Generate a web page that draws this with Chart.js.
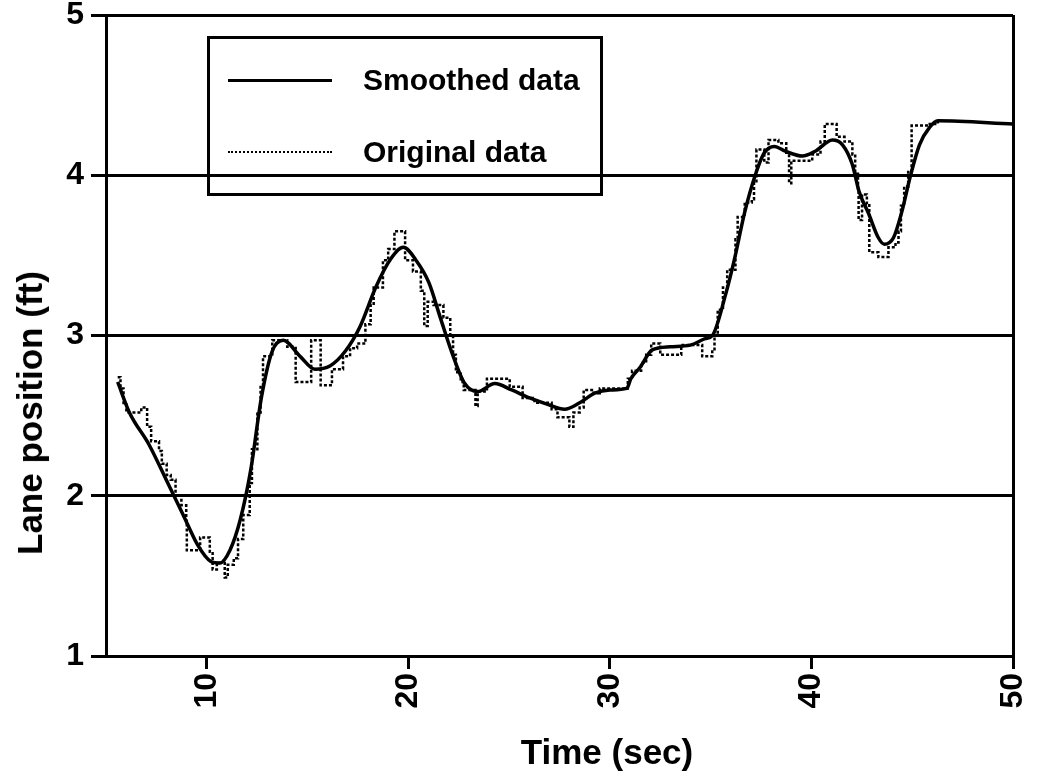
<!DOCTYPE html>
<html>
<head>
<meta charset="utf-8">
<script src="https://cdn.jsdelivr.net/npm/chart.js@4.4.1/dist/chart.umd.min.js"></script>
<style>
  html, body { margin: 0; padding: 0; background: #fff; }
  #wrap { position: relative; width: 1042px; height: 778px; font-family: 'Liberation Sans', Arial, sans-serif; color: #000; }
  #wrap canvas { position: absolute; left: 0; top: 0; }
  .legend { position: absolute; left: 207px; top: 36px; width: 390px; height: 154px; border: 3px solid #000; }
  .legend .row { position: absolute; left: 0; height: 40px; width: 100%; }
  .legend .sample { position: absolute; left: 18px; width: 104px; top: 19px; }
  .legend .solid { border-top: 3px solid #000; }
  .legend .dotted { border-top: 2px dotted #000; }
  .legend .label { position: absolute; left: 153px; top: 0; font-size: 30px; font-weight: bold; line-height: 40px; white-space: nowrap; }
  .xtitle { position: absolute; left: 607px; top: 752px; transform: translate(-50%, -50%); font-size: 35px; font-weight: bold; white-space: nowrap; }
  .ytitle { position: absolute; left: 30px; top: 413px; transform: translate(-50%, -50%) rotate(-90deg); font-size: 35px; font-weight: bold; white-space: nowrap; }
</style>
</head>
<body>
<div id="wrap">
  <canvas id="c" width="1042" height="778"></canvas>
  <div class="legend">
    <div class="row" style="top:21px"><div class="sample solid"></div><div class="label">Smoothed data</div></div>
    <div class="row" style="top:93px"><div class="sample dotted"></div><div class="label">Original data</div></div>
  </div>
  <div class="xtitle">Time (sec)</div>
  <div class="ytitle">Lane position (ft)</div>
</div>
<script>
// ---- axis setup ----
const xMin = 5, xMax = 50;
const yMin = 1, yMax = 5;
const xTicks = [10, 20, 30, 40, 50];

// ---- smoothed curve (time in sec, lane position in ft) ----
const smoothT = [5.58, 6.16, 7.13, 8.10, 8.83, 9.56, 10.20, 10.65, 11.15, 11.66,
  12.18, 12.72, 13.24, 13.79, 14.63, 15.36, 16.11, 16.86, 17.62, 18.38,
  19.14, 19.75, 20.38, 21.02, 21.59, 22.17, 22.80, 23.44, 24.29, 25.13,
  26.02, 26.91, 27.75, 28.50, 29.25, 30.00, 30.84, 31.04, 31.49, 32.10,
  33.00, 33.99, 34.73, 35.09, 35.75, 36.17, 36.69, 37.21, 37.66, 38.16,
  38.70, 39.55, 40.19, 41.04, 41.54, 42.02, 42.36, 42.84, 43.32, 43.62,
  44.07, 44.48, 44.90, 45.36, 45.87, 46.27, 50.00];
const smoothV = [2.71, 2.52, 2.32, 2.07, 1.88, 1.69, 1.59, 1.58, 1.66, 1.85,
  2.16, 2.62, 2.90, 2.97, 2.87, 2.79, 2.81, 2.90, 3.06, 3.30,
  3.48, 3.55, 3.47, 3.33, 3.11, 2.89, 2.70, 2.65, 2.70, 2.66,
  2.61, 2.57, 2.54, 2.58, 2.64, 2.66, 2.67, 2.73, 2.80, 2.91,
  2.93, 2.94, 2.98, 3.00, 3.26, 3.47, 3.77, 4.00, 4.14, 4.18,
  4.15, 4.12, 4.15, 4.22, 4.19, 4.07, 3.90, 3.76, 3.61, 3.57,
  3.61, 3.77, 3.99, 4.19, 4.30, 4.34, 4.32];

// ---- original (sampled, step) data ----
const origT = [5.58, 5.72, 5.87, 6.01, 6.75, 7.04, 7.24, 7.63, 7.77, 8.01,
  8.21, 8.45, 8.74, 8.98, 9.01, 9.67, 10.15, 10.29, 10.50, 10.89,
  11.04, 11.34, 11.55, 11.81, 12.13, 12.24, 12.51, 12.67, 12.79, 13.25,
  13.99, 14.41, 15.18, 15.65, 16.21, 16.76, 17.11, 17.46, 17.87, 18.13,
  18.28, 18.74, 19.00, 19.31, 19.84, 20.23, 20.62, 20.79, 20.96, 21.25,
  21.74, 22.08, 22.22, 22.36, 22.60, 22.75, 23.33, 23.44, 23.90, 25.03,
  25.67, 26.26, 27.11, 27.40, 27.99, 28.19, 28.50, 28.70, 29.20, 29.50,
  30.89, 31.10, 31.55, 31.80, 32.05, 32.50, 33.54, 34.58, 35.08, 35.19,
  35.35, 35.61, 35.82, 36.23, 36.34, 36.69, 37.04, 37.15, 37.27, 37.66,
  37.87, 38.36, 38.75, 38.89, 39.00, 40.04, 40.45, 40.66, 41.25, 41.64,
  42.03, 42.17, 42.31, 42.34, 42.51, 42.75, 42.87, 43.32, 43.82, 44.17,
  44.32, 44.44, 44.60, 44.80, 44.97, 45.87, 46.27];
const origV = [2.74, 2.67, 2.57, 2.52, 2.55, 2.43, 2.34, 2.28, 2.20, 2.13,
  2.10, 2.00, 1.94, 1.84, 1.66, 1.74, 1.65, 1.54, 1.58, 1.49,
  1.57, 1.61, 1.73, 1.88, 2.08, 2.29, 2.52, 2.69, 2.87, 2.97,
  2.93, 2.71, 2.97, 2.69, 2.79, 2.87, 2.92, 2.95, 3.07, 3.19,
  3.30, 3.47, 3.54, 3.65, 3.47, 3.40, 3.28, 3.06, 3.21, 3.19,
  3.11, 3.00, 2.88, 2.77, 2.71, 2.66, 2.56, 2.65, 2.73, 2.68,
  2.61, 2.58, 2.54, 2.49, 2.43, 2.52, 2.55, 2.66, 2.64, 2.67,
  2.73, 2.78, 2.83, 2.88, 2.95, 2.88, 2.94, 2.87, 2.90, 3.00,
  3.16, 3.30, 3.41, 3.60, 3.74, 3.83, 3.85, 3.95, 4.16, 4.08,
  4.22, 4.20, 4.14, 3.95, 4.09, 4.13, 4.21, 4.32, 4.24, 4.21,
  4.13, 4.01, 3.90, 3.72, 3.88, 3.82, 3.52, 3.49, 3.55, 3.58,
  3.65, 3.81, 3.93, 4.02, 4.31, 4.32, 4.34];

const pts = (ts, vs) => ts.map((t, i) => ({ x: t, y: vs[i] }));
const tickFont = { family: "'Liberation Sans', Arial, sans-serif", size: 32, weight: 'bold' };

new Chart(document.getElementById('c'), {
  type: 'line',
  data: {
    datasets: [
      {
        label: 'Original data',
        data: pts(origT, origV),
        stepped: 'before',
        borderColor: '#000',
        borderWidth: 2.5,
        borderDash: [3, 2],
        pointRadius: 0,
        fill: false
      },
      {
        label: 'Smoothed data',
        data: pts(smoothT, smoothV),
        cubicInterpolationMode: 'monotone',
        borderColor: '#000',
        borderWidth: 3.5,
        pointRadius: 0,
        fill: false
      }
    ]
  },
  options: {
    responsive: false,
    animation: false,
    layout: { padding: { top: 15, right: 29, left: 0, bottom: 0 } },
    plugins: { legend: { display: false }, tooltip: { enabled: false } },
    scales: {
      x: {
        type: 'linear', min: xMin, max: xMax,
        afterBuildTicks: s => { s.ticks = xTicks.map(v => ({ value: v })); },
        afterFit: s => { s.height = 122; s.paddingLeft = 0; s.paddingRight = 0; },
        ticks: { color: '#000', minRotation: 90, maxRotation: 90, padding: 4, font: tickFont },
        grid: {
          color: c => (c.tick && c.tick.value === 50) ? '#000' : 'rgba(0,0,0,0)',
          lineWidth: 3, tickColor: '#000', tickWidth: 3, tickLength: 13
        },
        border: { color: '#000', width: 3 }
      },
      y: {
        min: yMin, max: yMax,
        afterFit: s => { s.width = 106; s.paddingTop = 0; s.paddingBottom = 0; },
        ticks: { stepSize: 1, color: '#000', padding: 7, font: tickFont },
        grid: { color: '#000', lineWidth: 3, tickLength: 15 },
        border: { color: '#000', width: 3 }
      }
    }
  }
});
</script>
</body>
</html>
